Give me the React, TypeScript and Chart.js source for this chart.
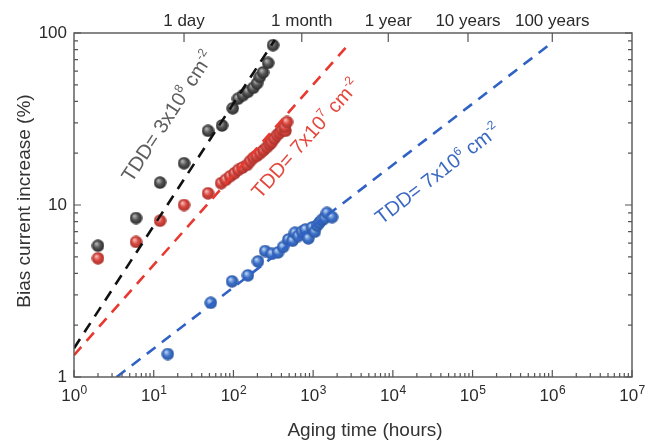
import React, { useEffect, useRef } from "react";
import { Chart, registerables } from "chart.js";

Chart.register(...registerables);

const FONT = '"Liberation Sans", Arial, Helvetica, sans-serif';

// ---- axis definitions ----
const xDecadeExponents = ["0", "1", "2", "3", "4", "5", "6", "7"];
const timeTickHours = [24, 720, 8760, 87600, 1000000];
const timeTickLabels = ["1 day", "1 month", "1 year", "10 years", "100 years"];
const yTickValues = [1, 10, 100];
const yTickLabels = ["1", "10", "100"];
const xTitle = "Aging time (hours)";
const yTitle = "Bias current increase (%)";

// ---- measured data ----
const blackHours = [2, 6, 12, 24, 48, 72, 98, 114, 132, 152, 177, 198, 214, 235, 272, 314];
const blackIncrease = [5.8, 8.4, 13.5, 17.5, 27, 29, 36.5, 41.5, 43.5, 45.5, 48, 51, 55.5, 59, 67, 85];

const redHours = [2, 6, 12, 24, 48, 70, 80, 91, 103, 115, 130, 148, 162, 178, 196, 216, 238, 263, 285, 302, 325, 352, 380, 406, 450, 440, 470];
const redIncrease = [4.9, 6.1, 8.1, 10, 11.7, 13.4, 14, 14.7, 15.3, 16, 16.5, 17.1, 18, 18.8, 19.3, 20, 20.8, 21.7, 22.5, 23.2, 24.3, 25.5, 26.3, 27.3, 27, 28.5, 30.4];

const blueHours = [15, 52, 96, 152, 203, 250, 303, 363, 420, 488, 550, 590, 650, 725, 800, 870, 970, 1050, 1120, 1200, 1290, 1400, 1490, 1730];
const blueIncrease = [1.36, 2.7, 3.6, 3.9, 4.7, 5.4, 5.2, 5.3, 5.7, 6.3, 6.2, 6.9, 6.6, 7.0, 7.2, 6.4, 7.4, 7.0, 7.6, 7.9, 8.2, 8.4, 9.0, 8.5];

// ---- power-law fit lines (end points) ----
const blackFitHours = [1, 330];
const blackFitIncrease = [1.47, 91];
const redFitHours = [1, 2970];
const redFitIncrease = [1.34, 88.7];
const blueFitHours = [3.43, 1.02e6];
const blueFitIncrease = [1, 88.7];

// ---- annotations ----
const annotationTexts = ["TDD= 3x10^{8} cm^{-2}", "TDD= 7x10^{7} cm^{-2}", "TDD= 7x10^{6} cm^{-2}"];
const annotationHours = [14.7, 791, 35900];
const annotationIncrease = [32.9, 24.5, 15.3];
const annotationColors = ["#5e5e5e", "#e5473d", "#3b68c2"];

const toPoints = (xs: number[], ys: number[]) => xs.map((x, i) => ({ x, y: ys[i] }));

function makeSphere(light: string, mid: string, dark: string, d = 13) {
  const c = document.createElement("canvas");
  c.width = d;
  c.height = d;
  const g = c.getContext("2d")!;
  const r = d / 2 - 0.3;
  const grad = g.createRadialGradient(d * 0.36, d * 0.33, 0.4, d / 2, d / 2, r);
  grad.addColorStop(0, light);
  grad.addColorStop(0.5, mid);
  grad.addColorStop(1, dark);
  g.fillStyle = grad;
  g.beginPath();
  g.arc(d / 2, d / 2, r, 0, Math.PI * 2);
  g.fill();
  return c;
}

function parseRich(s: string) {
  const segs: { t: string; sup: boolean }[] = [];
  const re = /\^\{([^}]*)\}/g;
  let last = 0;
  let m: RegExpExecArray | null;
  while ((m = re.exec(s))) {
    if (m.index > last) segs.push({ t: s.slice(last, m.index), sup: false });
    segs.push({ t: m[1], sup: true });
    last = m.index + m[0].length;
  }
  if (last < s.length) segs.push({ t: s.slice(last), sup: false });
  return segs;
}

function drawRich(ctx: CanvasRenderingContext2D, text: string, size: number) {
  const segs = parseRich(text);
  const big = `${size}px ${FONT}`;
  const small = `${Math.round(size * 0.62)}px ${FONT}`;
  const widths = segs.map((s) => {
    ctx.font = s.sup ? small : big;
    return ctx.measureText(s.t).width;
  });
  const total = widths.reduce((a, b) => a + b, 0);
  let x = -total / 2;
  const base = size * 0.36;
  ctx.textAlign = "left";
  ctx.textBaseline = "alphabetic";
  segs.forEach((s, i) => {
    ctx.font = s.sup ? small : big;
    ctx.fillText(s.t, x, s.sup ? base - size * 0.42 : base);
    x += widths[i];
  });
}

const decorPlugin = {
  id: "decor",
  afterDatasetsDraw(chart: any) {
    const { ctx } = chart;
    const xs = chart.scales.x;
    const ys = chart.scales.y;
    const fits = [
      [blackFitHours, blackFitIncrease],
      [redFitHours, redFitIncrease],
      [blueFitHours, blueFitIncrease],
    ];
    annotationTexts.forEach((t, i) => {
      const [fh, fv] = fits[i];
      const x0 = xs.getPixelForValue(fh[0]);
      const y0 = ys.getPixelForValue(fv[0]);
      const x1 = xs.getPixelForValue(fh[1]);
      const y1 = ys.getPixelForValue(fv[1]);
      const ang = Math.atan2(y1 - y0, x1 - x0);
      ctx.save();
      ctx.translate(xs.getPixelForValue(annotationHours[i]), ys.getPixelForValue(annotationIncrease[i]));
      ctx.rotate(ang);
      ctx.fillStyle = annotationColors[i];
      drawRich(ctx, t, 20);
      ctx.restore();
    });
  },
  afterDraw(chart: any) {
    const { ctx, chartArea: a } = chart;
    const xs = chart.scales.x;
    const ys = chart.scales.y;
    const xt = chart.scales.xTop;
    ctx.save();
    ctx.strokeStyle = "#555";
    ctx.lineWidth = 1.4;
    ctx.strokeRect(a.left, a.top, a.right - a.left, a.bottom - a.top);
    ctx.lineWidth = 1.2;
    ctx.beginPath();
    // bottom ticks (inward)
    for (let e = 0; e <= 7; e++) {
      for (let m = 1; m <= 9; m++) {
        const v = m * Math.pow(10, e);
        if (v > 1e7) break;
        const px = xs.getPixelForValue(v);
        const len = m === 1 ? 7 : 4;
        ctx.moveTo(px, a.bottom);
        ctx.lineTo(px, a.bottom - len);
      }
    }
    // left and right ticks (inward)
    for (let e = 0; e <= 2; e++) {
      for (let m = 1; m <= 9; m++) {
        const v = m * Math.pow(10, e);
        if (v > 100) break;
        const py = ys.getPixelForValue(v);
        const len = m === 1 ? 7 : 4;
        ctx.moveTo(a.left, py);
        ctx.lineTo(a.left + len, py);
        ctx.moveTo(a.right, py);
        ctx.lineTo(a.right - len, py);
      }
    }
    // top time ticks
    timeTickHours.forEach((h) => {
      const px = xt.getPixelForValue(h);
      ctx.moveTo(px, a.top);
      ctx.lineTo(px, a.top + 9);
    });
    ctx.stroke();

    // bottom decade labels 10^n
    ctx.fillStyle = "#2a2a2a";
    ctx.textBaseline = "alphabetic";
    ctx.textAlign = "left";
    xDecadeExponents.forEach((ex) => {
      const px = xs.getPixelForValue(Math.pow(10, Number(ex)));
      ctx.font = `17px ${FONT}`;
      const wb = ctx.measureText("10").width;
      ctx.font = `12px ${FONT}`;
      const we = ctx.measureText(ex).width;
      const x0 = px - (wb + we) / 2;
      ctx.font = `17px ${FONT}`;
      ctx.fillText("10", x0, a.bottom + 24);
      ctx.font = `12px ${FONT}`;
      ctx.fillText(ex, x0 + wb + 0.5, a.bottom + 17);
    });

    // axis titles
    ctx.fillStyle = "#333";
    ctx.font = `19px ${FONT}`;
    ctx.textAlign = "center";
    ctx.fillText(xTitle, (a.left + a.right) / 2 + 12, a.bottom + 59);
    ctx.translate(30, (a.top + a.bottom) / 2 - 4);
    ctx.rotate(-Math.PI / 2);
    ctx.fillText(yTitle, 0, 0);
    ctx.restore();
  },
};

export default function App() {
  const ref = useRef<HTMLCanvasElement>(null);
  useEffect(() => {
    if (!ref.current) return;
    const blackSphere = makeSphere("#b8b8b8", "#555", "#2a2a2a");
    const redSphere = makeSphere("#f7c0bc", "#d9473f", "#a8302a");
    const blueSphere = makeSphere("#bcd4f4", "#3f74cb", "#2a55a2");
    const scatter = (data: any, sphere: HTMLCanvasElement) => ({
      type: "scatter" as const,
      data,
      pointStyle: sphere,
      pointRadius: 6,
      showLine: false,
      order: 2,
    });
    const fit = (data: any, color: string) => ({
      type: "line" as const,
      data,
      borderColor: color,
      borderWidth: 2.6,
      borderDash: [11, 8],
      pointRadius: 0,
      fill: false,
      tension: 0,
      order: 1,
    });
    const chart = new Chart(ref.current, {
      type: "scatter",
      data: {
        datasets: [
          scatter(toPoints(blueHours, blueIncrease), blueSphere),
          scatter(toPoints(redHours, redIncrease), redSphere),
          scatter(toPoints(blackHours, blackIncrease), blackSphere),
          fit(toPoints(blueFitHours, blueFitIncrease), "#2f62c4"),
          fit(toPoints(redFitHours, redFitIncrease), "#e8382f"),
          fit(toPoints(blackFitHours, blackFitIncrease), "#111111"),
        ] as any,
      },
      options: {
        animation: false,
        responsive: false,
        events: [],
        layout: { padding: { left: 0, right: 26, top: 0, bottom: 0 } },
        plugins: { legend: { display: false }, tooltip: { enabled: false } },
        scales: {
          x: {
            type: "logarithmic",
            position: "bottom",
            min: 1,
            max: 1e7,
            grid: { display: false, drawTicks: false },
            border: { display: false },
            ticks: { display: false },
            afterFit: (s: any) => {
              s.height = 66;
            },
          },
          xTop: {
            type: "logarithmic",
            position: "top",
            min: 1,
            max: 1e7,
            grid: { display: false, drawTicks: false },
            border: { display: false },
            afterBuildTicks: (s: any) => {
              s.ticks = timeTickHours.map((v) => ({ value: v }));
            },
            ticks: {
              autoSkip: false,
              maxRotation: 0,
              color: "#2a2a2a",
              padding: 1,
              font: { family: FONT, size: 17 },
              callback: (_v: any, i: number) => timeTickLabels[i],
            },
            afterFit: (s: any) => {
              s.height = 33;
            },
          },
          y: {
            type: "logarithmic",
            position: "left",
            min: 1,
            max: 100,
            grid: { display: false, drawTicks: false },
            border: { display: false },
            afterBuildTicks: (s: any) => {
              s.ticks = yTickValues.map((v) => ({ value: v }));
            },
            ticks: {
              autoSkip: false,
              color: "#2a2a2a",
              padding: 7,
              font: { family: FONT, size: 17 },
              callback: (_v: any, i: number) => yTickLabels[i],
            },
            afterFit: (s: any) => {
              s.width = 74;
            },
          },
        },
      } as any,
      plugins: [decorPlugin],
    });
    return () => chart.destroy();
  }, []);
  return (
    <div style={{ position: "absolute", left: 0, top: 0, width: 658, height: 443, background: "#fff" }}>
      <canvas ref={ref} width={658} height={443} />
    </div>
  );
}
